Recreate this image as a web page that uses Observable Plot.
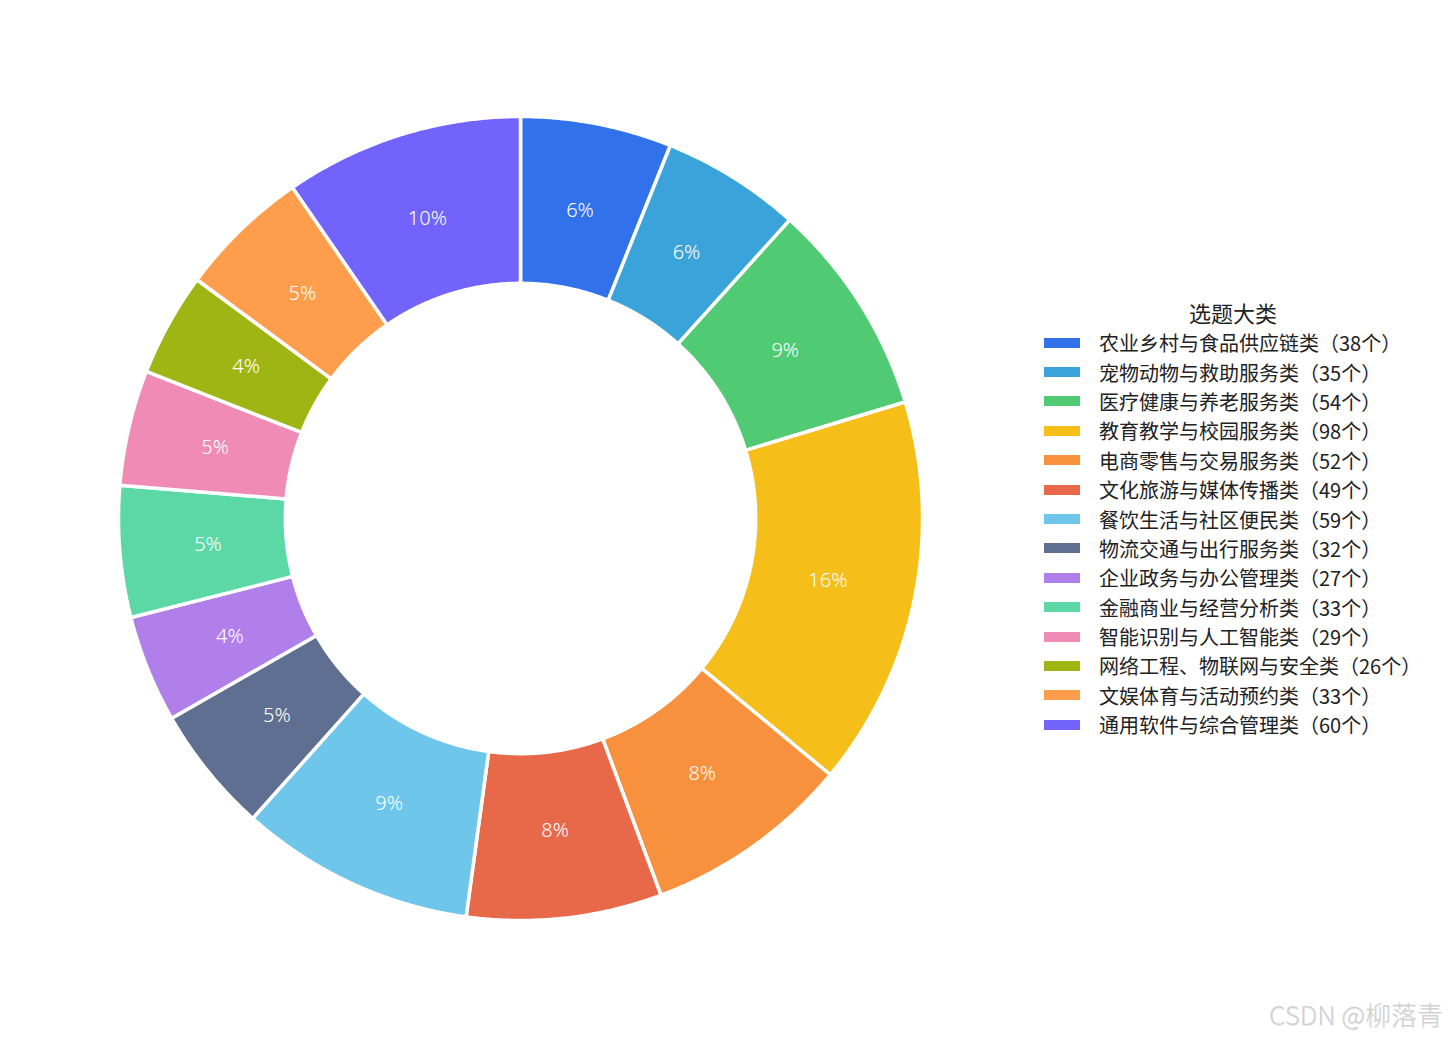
<!DOCTYPE html>
<html>
<head>
<meta charset="utf-8">
<script src="https://cdn.jsdelivr.net/npm/d3@7"></script>
<script src="https://cdn.jsdelivr.net/npm/@observablehq/plot@0.6"></script>
<style>
  html, body { margin: 0; padding: 0; background: #fff; }
  body { width: 1448px; height: 1040px; position: relative; overflow: hidden;
         font-family: "Noto Sans CJK SC", "Noto Sans", sans-serif; }
  #chart { position: absolute; left: 0; top: 0; }
  #legend { position: absolute; left: 1040px; top: 296px; color: #222; }
  #legend .title { font-size: 22px; text-align: center; width: 386px; height: 32px; line-height: 32px; }
  #legend .row { display: flex; align-items: center; height: 29.4px; }
  #legend .sw { width: 36px; height: 10px; margin-left: 4px; margin-right: 19px; }
  #legend .lab { font-size: 20px; white-space: nowrap; }
  #mark { position: absolute; right: 5px; bottom: 8px; font-size: 26px; color: #d0d0d0;
          font-weight: 300; text-shadow: 0.5px 0.5px 0.5px #e6e6e6; font-family: "Noto Sans CJK SC", sans-serif; }
</style>
</head>
<body>
<div id="chart"></div>
<div id="legend"></div>
<div id="mark">CSDN @柳落青</div>
<script>
const categories = [
  "农业乡村与食品供应链类", "宠物动物与救助服务类", "医疗健康与养老服务类", "教育教学与校园服务类",
  "电商零售与交易服务类", "文化旅游与媒体传播类", "餐饮生活与社区便民类", "物流交通与出行服务类",
  "企业政务与办公管理类", "金融商业与经营分析类", "智能识别与人工智能类", "网络工程、物联网与安全类",
  "文娱体育与活动预约类", "通用软件与综合管理类"
];
const counts = [38, 35, 54, 98, 52, 49, 59, 32, 27, 33, 29, 26, 33, 60];
const colors = [
  "#3171E9", "#3AA3DA", "#50CA73", "#F5BE18", "#F7913D", "#E8694A", "#6EC6EB",
  "#5E6F91", "#B17FEA", "#5BD8A6", "#EF8BB4", "#9FB513", "#FE9E4C", "#7263FC"
];
const legendTitle = "选题大类";

const innerR = 0.585;
const total = d3.sum(counts);
const pie = d3.pie().sort(null).value(d => d)(counts);

// slice outlines in unit coordinates (angle 0 at top, clockwise)
const pts = [];
pie.forEach((p, i) => {
  const n = Math.max(8, Math.ceil((p.endAngle - p.startAngle) / 0.005));
  const ring = [];
  for (let k = 0; k <= n; k++) {
    const a = p.startAngle + (p.endAngle - p.startAngle) * k / n;
    ring.push([Math.sin(a), Math.cos(a)]);
  }
  for (let k = n; k >= 0; k--) {
    const a = p.startAngle + (p.endAngle - p.startAngle) * k / n;
    ring.push([innerR * Math.sin(a), innerR * Math.cos(a)]);
  }
  ring.push(ring[0]);
  ring.forEach(([x, y]) => pts.push({cat: categories[i], x, y}));
});

const labR = 0.78;
const labels = pie.map((p, i) => {
  const a = (p.startAngle + p.endAngle) / 2;
  return {x: labR * Math.sin(a), y: labR * Math.cos(a),
          text: Math.round(counts[i] / total * 100) + "%"};
});

const W = 1448, H = 1040, cx = 520, cy = 518, R = 402;
const plot = Plot.plot({
  width: W, height: H,
  margin: 0,
  style: {fontFamily: "'Noto Sans', 'Noto Sans CJK SC', sans-serif", background: "transparent"},
  x: {domain: [-cx / R, (W - cx) / R], range: [0, W], axis: null},
  y: {domain: [cy / R, -(H - cy) / R], range: [0, H], axis: null},
  color: {domain: categories, range: colors},
  marks: [
    Plot.line(pts, {x: "x", y: "y", z: "cat", fill: "cat", stroke: "white",
                    strokeWidth: 3.5, strokeLinejoin: "miter", curve: "linear"}),
    Plot.text(labels, {x: "x", y: "y", text: "text", fill: "white",
                       fontSize: 20, fontWeight: 300})
  ]
});
document.getElementById("chart").appendChild(plot);

const lg = document.getElementById("legend");
const t = document.createElement("div");
t.className = "title"; t.textContent = legendTitle; lg.appendChild(t);
categories.forEach((c, i) => {
  const row = document.createElement("div"); row.className = "row";
  const sw = document.createElement("div"); sw.className = "sw"; sw.style.background = colors[i];
  const lab = document.createElement("div"); lab.className = "lab";
  lab.textContent = c + "（" + counts[i] + "个）";
  row.appendChild(sw); row.appendChild(lab); lg.appendChild(row);
});
</script>
</body>
</html>
